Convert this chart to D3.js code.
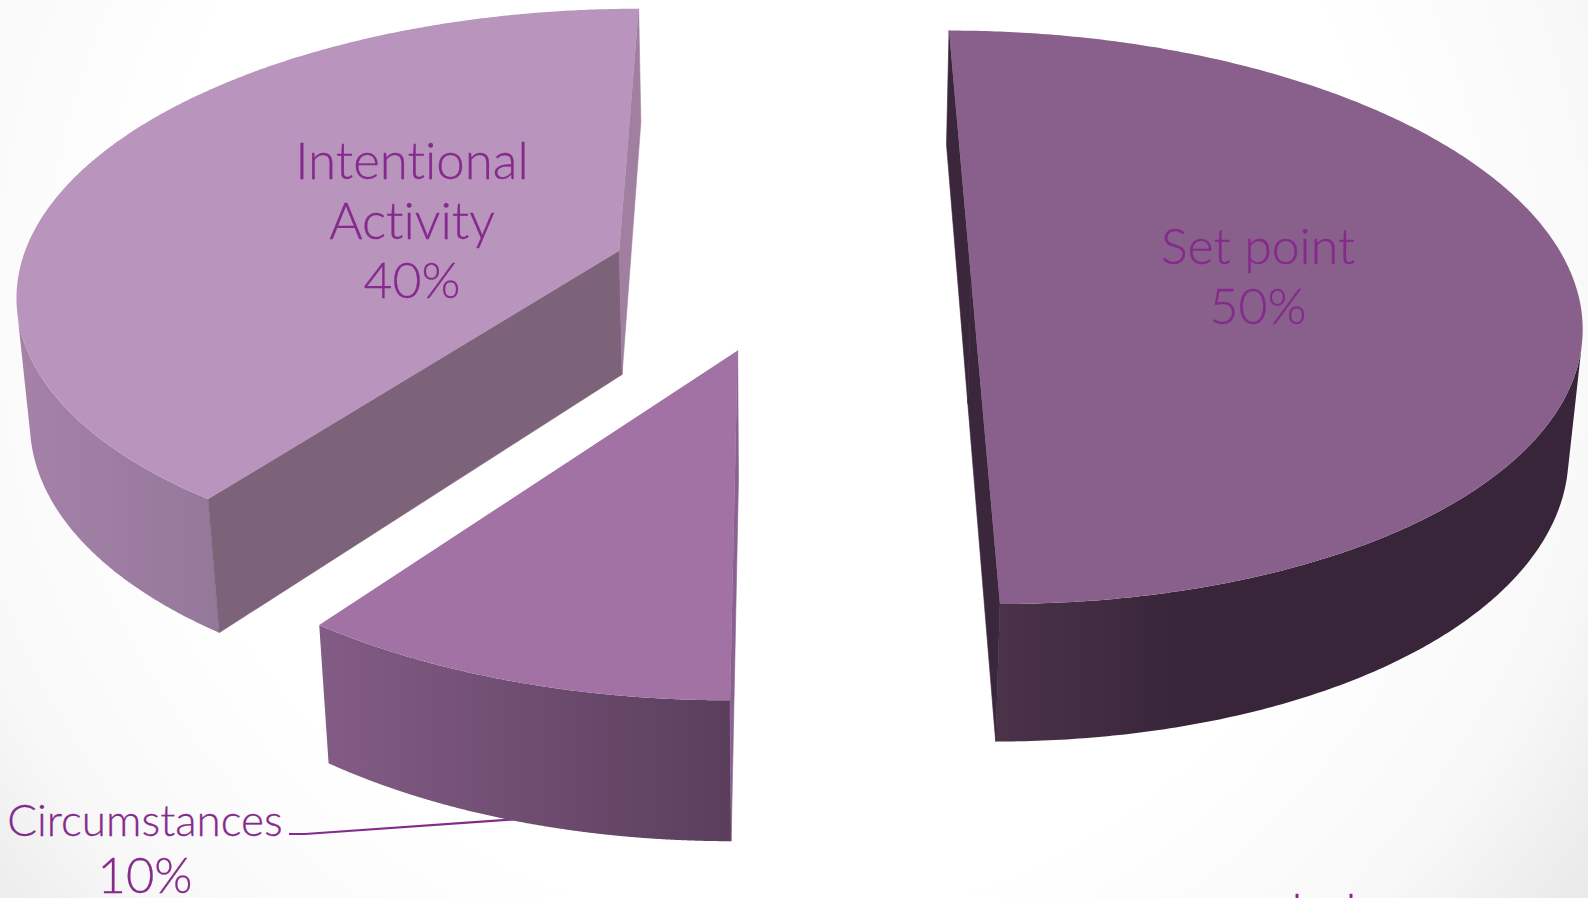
<!DOCTYPE html>
<html>
<head>
<meta charset="utf-8">
<style>
html,body{margin:0;padding:0;background:#fff;overflow:hidden}
svg{display:block}
text{font-family:"Lato","Open Sans",sans-serif;font-weight:300;fill:#852a8c;stroke:#852a8c;stroke-width:0.3;text-anchor:middle;font-variant-ligatures:none}
</style>
<script src="https://cdn.jsdelivr.net/npm/d3@7"></script>
</head>
<body>
<svg id="chart" width="1588" height="898" xmlns="http://www.w3.org/2000/svg"></svg>
<script>
// Share of happiness by source, clockwise from the back of the pie
const categories = ["Set point", "Circumstances", "Intentional Activity"];
const shares = [50, 10, 40];
const labelLines = [["Set point", "50%"], ["Circumstances", "10%"], ["Intentional", "Activity", "40%"]];

// How far each slice is pulled out from the pie centre, in radii (across, into depth)
const explosion = [[0.309, 0], [-0.076, -0.2465], [-0.279, 0.101]];

// Per-slice paint: top face, visible cut faces and the rim shading stops
const sliceStyle = [
  {top: "#88608b", cutStart: "#3a273c", cutEnd: "#3a273c", rim: [[0, "#4b3349"], [0.32, "#38253a"], [1, "#38253a"]]},
  {top: "#a272a4", cutStart: "#8a6290", cutEnd: "#8a6290", rim: [[0, "#835c85"], [1, "#5a3e5c"]]},
  {top: "#b994bd", cutStart: "#7d6379", cutEnd: "#a07fa1", rim: [[0, "#a582a8"], [1, "#94789a"]]}
];

// Perspective camera: vanishing column, horizon, and plane constants
const cam = {cx: 785, horizon: -1816, depth: 7.44, lateral: 4480, plane: 15585, nadir: 9316, thickness: 0.131};

function project(x, y, level) {
  const q = cam.thickness * level;
  const d = cam.depth + y + q;
  return [cam.cx + cam.lateral * x / d, cam.horizon + (cam.plane + cam.nadir * q) / d];
}

// Signed area in screen space (y down); its sign tells which way a face points
const signedArea = pts => -d3.polygonArea(pts);

const W = 1588, H = 898;
const svg = d3.select("#chart");
const defs = svg.append("defs");

// Soft grey vignette behind the chart
const bg = defs.append("radialGradient").attr("id", "bg")
  .attr("gradientUnits", "userSpaceOnUse").attr("cx", 770).attr("cy", 300)
  .attr("r", 1000);
[[0, "#ffffff"], [0.62, "#ffffff"], [0.85, "#f8f8f8"], [1, "#eaeaea"]].forEach(s =>
  bg.append("stop").attr("offset", s[0]).attr("stop-color", s[1]));
svg.append("rect").attr("width", W).attr("height", H).attr("fill", "url(#bg)");

const pie = d3.pie().sort(null).startAngle(0).endAngle(2 * Math.PI);
const arcs = pie(shares);
const line = d3.line();

// Leader from the Circumstances label to its slice, beneath the slices
svg.append("path")
  .attr("d", line([[289, 834], [305, 834], [520, 819]]))
  .attr("fill", "none").attr("stroke", "#852a8c").attr("stroke-width", 2.2);

arcs.forEach((a, i) => {
  const [ox, oy] = explosion[i];
  const style = sliceStyle[i];
  const rimPoint = (t, level) => project(ox + Math.sin(t), oy + Math.cos(t), level);
  const apex = level => project(ox, oy, level);
  const steps = 360;
  const sweep = d3.range(0, steps + 1).map(k => a.startAngle + (a.endAngle - a.startAngle) * k / steps);

  // Only the stretch of rim that faces the camera is painted
  const facing = sweep.filter((t, k) => {
    const from = k === steps ? sweep[k - 1] : t;
    const to = k === steps ? t : sweep[k + 1];
    return signedArea([rimPoint(from, 0), rimPoint(to, 0), rimPoint(to, 1), rimPoint(from, 1)]) < 0;
  });

  const g = svg.append("g").attr("class", "slice").attr("data-name", categories[i]);

  const rimTop = facing.map(t => rimPoint(t, 0));
  const rimLow = facing.map(t => rimPoint(t, 1)).reverse();
  const xs = rimTop.concat(rimLow).map(p => p[0]);
  const grad = defs.append("linearGradient").attr("id", "rim" + i)
    .attr("gradientUnits", "userSpaceOnUse")
    .attr("x1", d3.min(xs)).attr("x2", d3.max(xs)).attr("y1", 0).attr("y2", 0);
  style.rim.forEach(s => grad.append("stop").attr("offset", s[0]).attr("stop-color", s[1]));
  g.append("path").attr("d", line(rimTop.concat(rimLow)) + "Z").attr("fill", "url(#rim" + i + ")");

  // Flat faces where the slice was cut from the pie, when they face the camera
  const cutFace = (t, fill, visible) => {
    const pts = [apex(0), rimPoint(t, 0), rimPoint(t, 1), apex(1)];
    if (visible(signedArea(pts))) {
      g.append("path").attr("d", line(pts) + "Z")
        .attr("fill", fill).attr("stroke", fill).attr("stroke-width", 0.6);
    }
  };
  cutFace(a.startAngle, style.cutStart, s => s < 0);
  cutFace(a.endAngle, style.cutEnd, s => s > 0);

  g.append("path").attr("d", line([apex(0)].concat(sweep.map(t => rimPoint(t, 0)))) + "Z").attr("fill", style.top);
});

// Slice labels, one line per row
const labelLayout = [
  {x: 1258, rows: [264, 324], sizes: [50, 50]},
  {x: 145, rows: [836, 893], sizes: [44, 49]},
  {x: 412, rows: [179, 239, 298], sizes: [51, 51, 50]}
];
labelLines.forEach((rows, i) => {
  rows.forEach((row, r) => {
    svg.append("text").attr("x", labelLayout[i].x).attr("y", labelLayout[i].rows[r])
      .attr("font-size", labelLayout[i].sizes[r]).text(row);
  });
});

// Tops of a further text line running off the bottom edge
[1297, 1351].forEach(x => {
  svg.append("text").attr("x", x).attr("y", 930).attr("font-size", 50).attr("font-weight", 400).text("l");
});
</script>
</body>
</html>
